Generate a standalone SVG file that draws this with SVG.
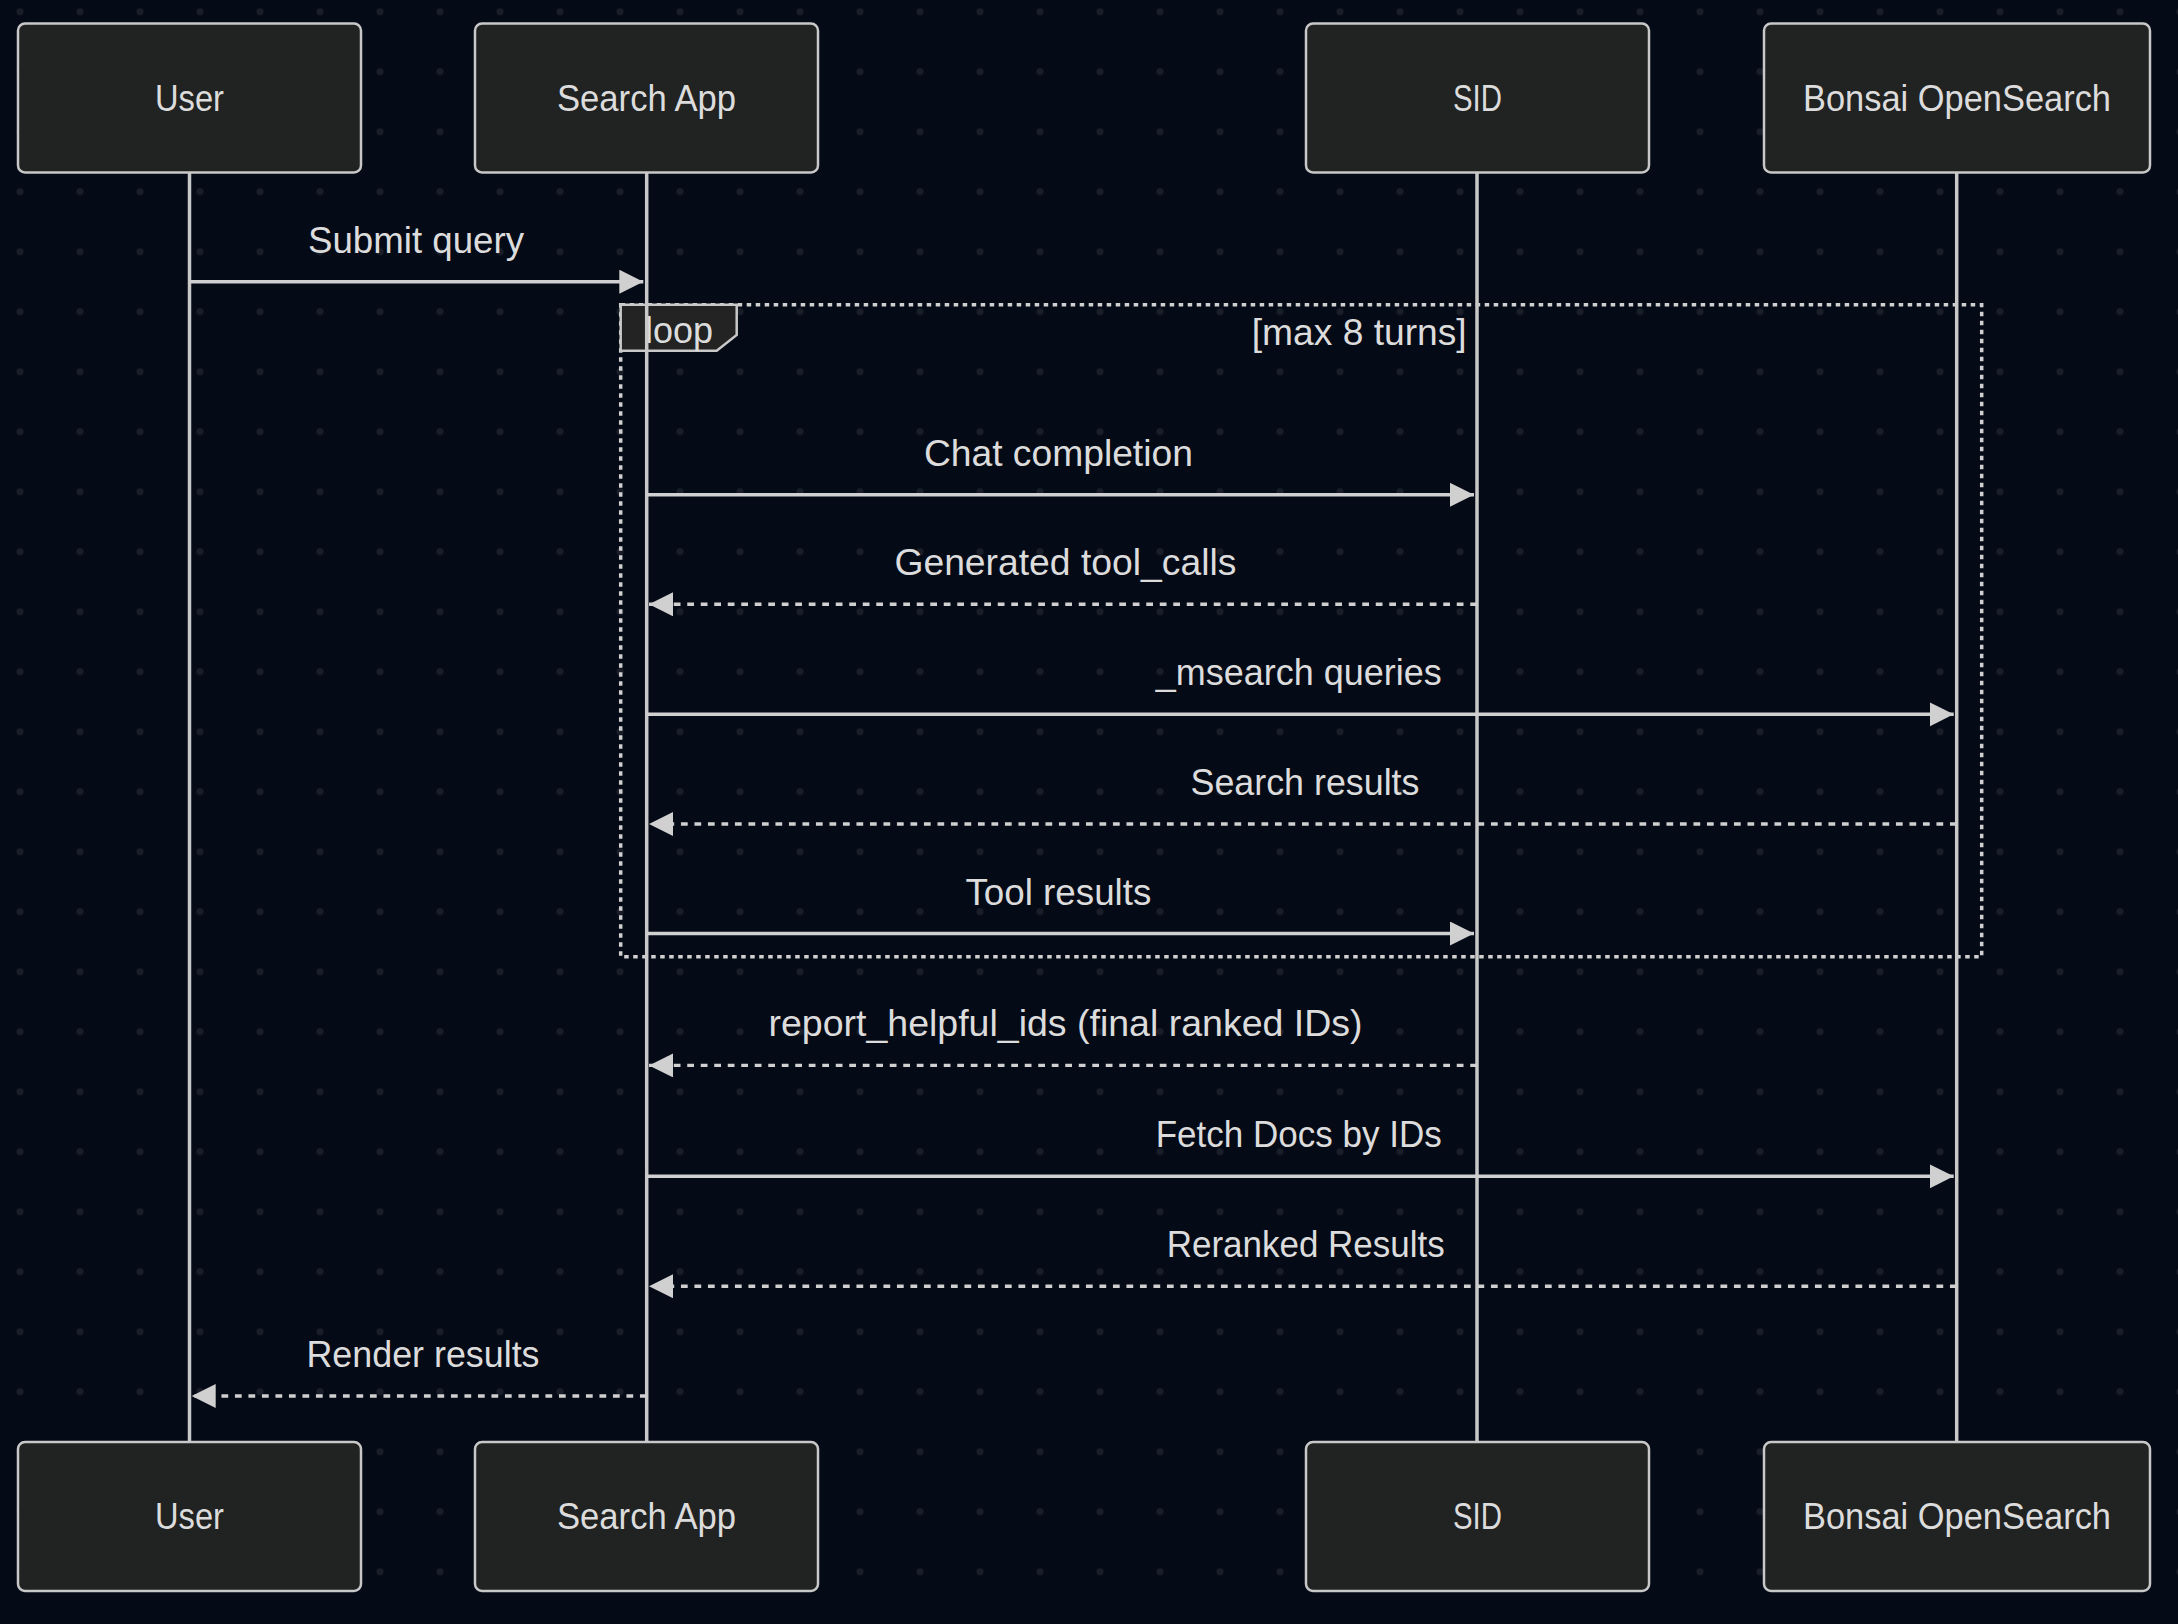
<svg xmlns="http://www.w3.org/2000/svg" width="2178" height="1624" viewBox="0 0 2178 1624">
<defs>
<pattern id="dots" patternUnits="userSpaceOnUse" x="-10" y="-18.3" width="60" height="60">
<circle cx="30" cy="30" r="3.5" fill="#1a1e29"/>
</pattern>
<marker id="arrow" markerUnits="userSpaceOnUse" markerWidth="26" markerHeight="26" refX="24" refY="12" orient="auto">
<path d="M0,0 L24,12 L0,24 Z" fill="#d0d0d0" stroke="none"/>
</marker>
<style>
.bg{fill:#050a17}
.actor rect{fill:#212222;stroke:#c8c8c8;stroke-width:2.5}
.actor text{font-family:"Liberation Sans",Arial,sans-serif;font-size:36px;fill:#dcdcdc;text-anchor:middle}
.life{stroke:#c8c8c8;stroke-width:3.5;fill:none}
.msg{stroke:#d0d0d0;stroke-width:3.4;fill:none;marker-end:url(#arrow)}
.dash{stroke-dasharray:6.75 6.75}
.lbl{font-family:"Liberation Sans",Arial,sans-serif;font-size:36px;fill:#dcdcdc;text-anchor:middle}
.loopbox{fill:none;stroke:#d0d0d0;stroke-width:3.5;stroke-dasharray:4.5 4.5}
.looplabel{fill:#222322;stroke:#c8c8c8;stroke-width:2.5}
</style>
</defs>
<rect class="bg" x="0" y="0" width="2178" height="1624"/>
<rect x="0" y="0" width="2178" height="1624" fill="url(#dots)"/>

<g id="loop">
<rect class="loopbox" x="620.7" y="304.7" width="1361" height="652"/>
<polygon class="looplabel" points="620.7,304.7 736.7,304.7 736.7,335 716.7,350.7 620.7,350.7"/>
<text class="lbl" x="679" y="343" textLength="68" lengthAdjust="spacingAndGlyphs">loop</text>
<text class="lbl" x="1466.7" y="345" style="text-anchor:end" textLength="215" lengthAdjust="spacingAndGlyphs">[max 8 turns]</text>
</g>

<g id="lifelines">
<line class="life" x1="189.5" y1="172.5" x2="189.5" y2="1442"/>
<line class="life" x1="646.7" y1="172.5" x2="646.7" y2="1442"/>
<line class="life" x1="1477" y1="172.5" x2="1477" y2="1442"/>
<line class="life" x1="1956.7" y1="172.5" x2="1956.7" y2="1442"/>
</g>

<g id="connectors">
<line class="msg" x1="189.5" y1="281.7" x2="643.3" y2="281.7"/>
<text class="lbl" x="416" y="253" textLength="216" lengthAdjust="spacingAndGlyphs">Submit query</text>

<line class="msg" x1="646.7" y1="494.8" x2="1474" y2="494.8"/>
<text class="lbl" x="1058.4" y="466" textLength="269" lengthAdjust="spacingAndGlyphs">Chat completion</text>

<line class="msg dash" x1="1477" y1="604.3" x2="649" y2="604.3"/>
<text class="lbl" x="1065.4" y="575" textLength="342" lengthAdjust="spacingAndGlyphs">Generated tool_calls</text>

<line class="msg" x1="646.7" y1="714.3" x2="1953.7" y2="714.3"/>
<text class="lbl" x="1298.7" y="685" textLength="286" lengthAdjust="spacingAndGlyphs">_msearch queries</text>

<line class="msg dash" x1="1956.7" y1="824" x2="649" y2="824"/>
<text class="lbl" x="1305" y="795" textLength="229" lengthAdjust="spacingAndGlyphs">Search results</text>

<line class="msg" x1="646.7" y1="933.5" x2="1474" y2="933.5"/>
<text class="lbl" x="1058.4" y="904.5" textLength="186" lengthAdjust="spacingAndGlyphs">Tool results</text>

<line class="msg dash" x1="1477" y1="1065.4" x2="649" y2="1065.4"/>
<text class="lbl" x="1065.5" y="1036.4" textLength="594" lengthAdjust="spacingAndGlyphs">report_helpful_ids (final ranked IDs)</text>

<line class="msg" x1="646.7" y1="1176.3" x2="1953.7" y2="1176.3"/>
<text class="lbl" x="1298.7" y="1147.3" textLength="286" lengthAdjust="spacingAndGlyphs">Fetch Docs by IDs</text>

<line class="msg dash" x1="1956.7" y1="1286.2" x2="649" y2="1286.2"/>
<text class="lbl" x="1305.7" y="1257.2" textLength="278" lengthAdjust="spacingAndGlyphs">Reranked Results</text>

<line class="msg dash" x1="646.7" y1="1396" x2="191.7" y2="1396"/>
<text class="lbl" x="423" y="1367" textLength="233" lengthAdjust="spacingAndGlyphs">Render results</text>
</g>

<g id="actor-user-top" class="actor">
<rect x="18" y="23.5" width="343" height="149" rx="7" ry="7"/>
<text x="189.5" y="111" textLength="69" lengthAdjust="spacingAndGlyphs">User</text>
</g>
<g id="actor-searchapp-top" class="actor">
<rect x="475" y="23.5" width="343" height="149" rx="7" ry="7"/>
<text x="646.5" y="111" textLength="179" lengthAdjust="spacingAndGlyphs">Search App</text>
</g>
<g id="actor-sid-top" class="actor">
<rect x="1306" y="23.5" width="343" height="149" rx="7" ry="7"/>
<text x="1477.5" y="111" textLength="49" lengthAdjust="spacingAndGlyphs">SID</text>
</g>
<g id="actor-bonsai-top" class="actor">
<rect x="1764" y="23.5" width="386" height="149" rx="7" ry="7"/>
<text x="1957" y="111" textLength="308" lengthAdjust="spacingAndGlyphs">Bonsai OpenSearch</text>
</g>

<g id="actor-user-bottom" class="actor">
<rect x="18" y="1442" width="343" height="149" rx="7" ry="7"/>
<text x="189.5" y="1529" textLength="69" lengthAdjust="spacingAndGlyphs">User</text>
</g>
<g id="actor-searchapp-bottom" class="actor">
<rect x="475" y="1442" width="343" height="149" rx="7" ry="7"/>
<text x="646.5" y="1529" textLength="179" lengthAdjust="spacingAndGlyphs">Search App</text>
</g>
<g id="actor-sid-bottom" class="actor">
<rect x="1306" y="1442" width="343" height="149" rx="7" ry="7"/>
<text x="1477.5" y="1529" textLength="49" lengthAdjust="spacingAndGlyphs">SID</text>
</g>
<g id="actor-bonsai-bottom" class="actor">
<rect x="1764" y="1442" width="386" height="149" rx="7" ry="7"/>
<text x="1957" y="1529" textLength="308" lengthAdjust="spacingAndGlyphs">Bonsai OpenSearch</text>
</g>
</svg>
